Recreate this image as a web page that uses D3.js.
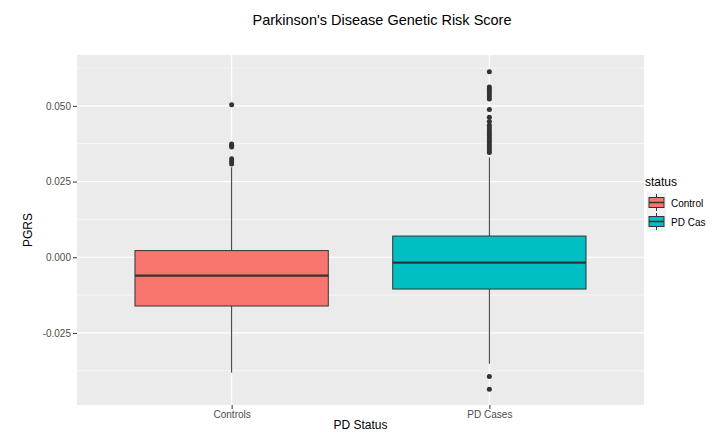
<!DOCTYPE html>
<html>
<head>
<meta charset="utf-8">
<script src="https://cdn.jsdelivr.net/npm/d3@7"></script>
<style>
  body { margin: 0; background: #fff; }
  text { font-family: "Liberation Sans", Arial, sans-serif; }
</style>
</head>
<body>
<div id="chart"></div>
<script>
const width = 713;
const height = 434;

// data
const groups = ["Controls", "PD Cases"];
const legendLabels = ["Control", "PD Cas"];
const colors = ["#F8766D", "#00BFC4"];
const lowerWhisker = [-0.0381, -0.0352];
const q1 = [-0.0161, -0.0105];
const median = [-0.0061, -0.0018];
const q3 = [0.0022, 0.0070];
const upperWhisker = [0.0297, 0.0330];
const outliersControls = [0.0504, 0.0374, 0.0369, 0.0364, 0.0325, 0.0316, 0.0308];
const outliersCases = [0.0613, 0.0562, 0.0555, 0.0547, 0.0539, 0.0531, 0.0523, 0.0488,
  0.0462, 0.0448, 0.0436, 0.0427, 0.0418, 0.0410, 0.0402, 0.0394, 0.0386, 0.0378,
  0.0370, 0.0362, 0.0354, 0.0346, -0.0394, -0.0436];
const yTicks = [-0.025, 0, 0.025, 0.05];
const yMinor = [-0.0375, -0.0125, 0.0125, 0.0375, 0.0625];

const margin = { top: 55, right: 69, bottom: 29, left: 77 };
const pw = width - margin.left - margin.right;
const ph = height - margin.top - margin.bottom;

const svg = d3.select("#chart")
  .append("svg")
  .attr("width", width)
  .attr("height", height);

// ggplot discrete axis: 0.6 units of expansion on each side
const x = d3.scalePoint()
  .domain(groups)
  .range([0, pw])
  .padding(0.6);

const y = d3.scaleLinear()
  .domain([-0.0488, 0.0668])
  .range([ph, 0]);

const step = x.step();
const boxW = step * 0.75;

const g = svg.append("g")
  .attr("transform", `translate(${margin.left},${margin.top})`);

g.append("rect")
  .attr("width", pw)
  .attr("height", ph)
  .attr("fill", "#EBEBEB");

g.selectAll(".minor")
  .data(yMinor)
  .enter().append("line")
  .attr("x1", 0).attr("x2", pw)
  .attr("y1", d => y(d)).attr("y2", d => y(d))
  .attr("stroke", "#fff")
  .attr("stroke-width", 0.6);

g.selectAll(".major")
  .data(yTicks)
  .enter().append("line")
  .attr("x1", 0).attr("x2", pw)
  .attr("y1", d => y(d)).attr("y2", d => y(d))
  .attr("stroke", "#fff")
  .attr("stroke-width", 1.2);

g.selectAll(".vmajor")
  .data(groups)
  .enter().append("line")
  .attr("x1", d => x(d)).attr("x2", d => x(d))
  .attr("y1", 0).attr("y2", ph)
  .attr("stroke", "#fff")
  .attr("stroke-width", 1.2);

// axes
const yAxis = g.append("g")
  .call(d3.axisLeft(y).tickValues(yTicks).tickSize(4).tickPadding(2)
    .tickFormat(d3.format(".3f")));
yAxis.select(".domain").remove();
yAxis.selectAll(".tick line").attr("stroke", "#333");
yAxis.selectAll("text").attr("fill", "#4D4D4D").attr("font-size", 10)
  .text(d => d3.format(".3f")(d).replace("−", "-"));

const xAxis = g.append("g")
  .attr("transform", `translate(0,${ph})`)
  .call(d3.axisBottom(x).tickSize(4).tickPadding(2));
xAxis.select(".domain").remove();
xAxis.selectAll(".tick line").attr("stroke", "#333");
xAxis.selectAll("text").attr("fill", "#4D4D4D").attr("font-size", 10);

// boxes
const boxes = groups.map((name, i) => ({
  name, color: colors[i],
  lo: lowerWhisker[i], q1: q1[i], med: median[i], q3: q3[i], hi: upperWhisker[i]
}));

const b = g.selectAll(".box")
  .data(boxes)
  .enter().append("g");

b.append("line")
  .attr("x1", d => x(d.name)).attr("x2", d => x(d.name))
  .attr("y1", d => y(d.hi)).attr("y2", d => y(d.q3))
  .attr("stroke", "#333").attr("stroke-width", 1);

b.append("line")
  .attr("x1", d => x(d.name)).attr("x2", d => x(d.name))
  .attr("y1", d => y(d.q1)).attr("y2", d => y(d.lo))
  .attr("stroke", "#333").attr("stroke-width", 1);

b.append("rect")
  .attr("x", d => x(d.name) - boxW / 2)
  .attr("width", boxW)
  .attr("y", d => y(d.q3))
  .attr("height", d => y(d.q1) - y(d.q3))
  .attr("fill", d => d.color)
  .attr("stroke", "#333")
  .attr("stroke-width", 1);

b.append("line")
  .attr("x1", d => x(d.name) - boxW / 2).attr("x2", d => x(d.name) + boxW / 2)
  .attr("y1", d => y(d.med)).attr("y2", d => y(d.med))
  .attr("stroke", "#333").attr("stroke-width", 2.2);

const outliers = [
  ...outliersControls.map(v => ({ name: groups[0], v })),
  ...outliersCases.map(v => ({ name: groups[1], v }))
];

g.selectAll(".out")
  .data(outliers)
  .enter().append("circle")
  .attr("cx", d => x(d.name))
  .attr("cy", d => y(d.v))
  .attr("r", 2.5)
  .attr("fill", "#333");

// titles
svg.append("text")
  .attr("x", 382)
  .attr("y", 25)
  .attr("text-anchor", "middle")
  .attr("font-size", 14.5)
  .attr("fill", "#000")
  .text("Parkinson's Disease Genetic Risk Score");

svg.append("text")
  .attr("x", margin.left + pw / 2)
  .attr("y", 429)
  .attr("text-anchor", "middle")
  .attr("font-size", 12)
  .text("PD Status");

svg.append("text")
  .attr("transform", `translate(32,${margin.top + ph / 2}) rotate(-90)`)
  .attr("text-anchor", "middle")
  .attr("font-size", 12)
  .text("PGRS");

// legend
const legend = svg.append("g")
  .attr("transform", "translate(645,180)");

legend.append("text")
  .attr("x", 0)
  .attr("y", 6)
  .attr("font-size", 12)
  .text("status");

const keys = legend.selectAll(".key")
  .data(boxes)
  .enter().append("g")
  .attr("transform", (d, i) => `translate(2,${13 + i * 19})`);

keys.append("rect")
  .attr("width", 19).attr("height", 19)
  .attr("fill", "#F2F2F2");

keys.append("line")
  .attr("x1", 9.5).attr("x2", 9.5)
  .attr("y1", 1).attr("y2", 18)
  .attr("stroke", "#333");

keys.append("rect")
  .attr("x", 2).attr("y", 4.5)
  .attr("width", 15).attr("height", 10)
  .attr("fill", d => d.color)
  .attr("stroke", "#333");

keys.append("line")
  .attr("x1", 2).attr("x2", 17)
  .attr("y1", 9.5).attr("y2", 9.5)
  .attr("stroke", "#333").attr("stroke-width", 1.5);

keys.append("text")
  .attr("x", 24)
  .attr("y", 13.5)
  .attr("font-size", 10)
  .text((d, i) => legendLabels[i]);
</script>
</body>
</html>
